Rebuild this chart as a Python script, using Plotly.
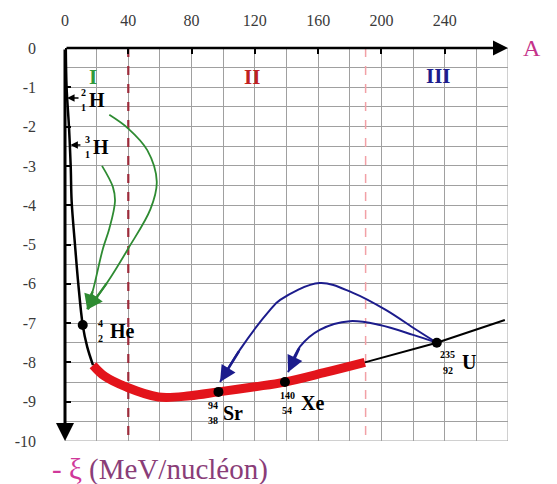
import plotly.graph_objects as go

# ---------------- data ----------------
x_ticks = [0, 40, 80, 120, 160, 200, 240]
y_ticks = [0, -1, -2, -3, -4, -5, -6, -7, -8, -9, -10]

light_A = [0.5, 1.0, 2.5, 3.6, 4.2, 6.3, 8.4, 11.2, 14.0, 17.7]
light_E = [0.0, -1.0, -2.0, -3.0, -3.9, -5.0, -6.0, -7.05, -7.6, -8.07]

stable_A = [17.7, 25, 39, 59, 79, 97, 120, 139, 165, 189.5]
stable_E = [-8.07, -8.35, -8.63, -8.88, -8.85, -8.75, -8.62, -8.5, -8.25, -8.0]

heavy_A = [189.5, 235, 278]
heavy_E = [-8.0, -7.5, -6.92]

nuclide_A = [11.2, 97, 139, 235]
nuclide_E = [-7.05, -8.75, -8.5, -7.5]

fusion1_A = [28, 40, 52, 58, 54, 40, 27, 14.5]
fusion1_E = [-1.7, -2.05, -2.6, -3.4, -4.1, -5.1, -5.95, -6.65]
fusion2_A = [23.4, 30.3, 31.6, 28, 24, 17.7, 14]
fusion2_E = [-3.0, -3.54, -3.9, -4.6, -5.1, -6.16, -6.65]

fission1_A = [235, 222, 203, 182, 161, 136, 129.5, 110.5, 98]
fission1_E = [-7.5, -7.17, -6.67, -6.23, -5.98, -6.41, -6.67, -7.68, -8.5]
fission2_A = [235, 220, 199, 180, 161, 148.5, 141]
fission2_E = [-7.5, -7.3, -7.05, -6.95, -7.17, -7.6, -8.25]

region_bounds = [40, 190]

# nuclide labels: (A of symbol, E of symbol, symbol, mass, Z, A of numbers)
labels = [
    (20.5, -1.32, "H", "2", "1", 11.6),
    (23.0, -2.52, "H", "3", "1", 14.2),
    (36.5, -7.2, "He", "4", "2", 22.5),
    (106, -9.29, "Sr", "94", "38", 93.5),
    (156.5, -9.03, "Xe", "140", "54", 140.5),
    (255.5, -8.0, "U", "235", "92", 242),
]
pointers = [((9.5, -1.27), (1.3, -1.27)), ((10.7, -2.47), (3.4, -2.47))]

romans = [("I", 18, -0.75, "#2f9a3c"), ("II", 118, -0.75, "#c0201f"), ("III", 236, -0.7, "#1c1c8c")]

SERIF = "Liberation Serif"

fig = go.Figure()

# vertical region separators
fig.add_trace(go.Scatter(x=[region_bounds[0]] * 2, y=[0, -10], mode="lines",
                         line=dict(color="#9c2a3a", width=2.2, dash="dash"), hoverinfo="skip"))
fig.add_trace(go.Scatter(x=[region_bounds[1]] * 2, y=[0, -10], mode="lines",
                         line=dict(color="#f2a0a6", width=1.5, dash="dash"), hoverinfo="skip"))

# binding energy curve
fig.add_trace(go.Scatter(x=light_A, y=light_E, mode="lines", line=dict(color="black", width=2.5, shape="spline")))
fig.add_trace(go.Scatter(x=stable_A, y=stable_E, mode="lines", line=dict(color="#e3141b", width=9, shape="spline")))
fig.add_trace(go.Scatter(x=heavy_A, y=heavy_E, mode="lines", line=dict(color="black", width=2)))

# fusion / fission paths
for xs, ys, col, w in [(fusion1_A, fusion1_E, "#2e8b32", 1.8), (fusion2_A, fusion2_E, "#2e8b32", 1.8),
                       (fission1_A, fission1_E, "#1c1c8c", 2), (fission2_A, fission2_E, "#1c1c8c", 2)]:
    fig.add_trace(go.Scatter(x=xs, y=ys, mode="lines", line=dict(color=col, width=w, shape="spline")))
    fig.add_annotation(x=xs[-1], y=ys[-1], ax=xs[-2], ay=ys[-2], axref="x", ayref="y", xref="x", yref="y",
                       text="", showarrow=True, arrowhead=2, arrowsize=1.3, arrowwidth=w + 0.5, arrowcolor=col)

fig.add_trace(go.Scatter(x=nuclide_A, y=nuclide_E, mode="markers",
                         marker=dict(color="black", size=10), hoverinfo="skip"))

# axes arrows
fig.add_annotation(x=280, y=0, ax=0, ay=0, axref="x", ayref="y", xref="x", yref="y", text="",
                   showarrow=True, arrowhead=2, arrowsize=1.2, arrowwidth=2.5, arrowcolor="black")
fig.add_annotation(x=0, y=-10, ax=0, ay=0, axref="x", ayref="y", xref="x", yref="y", text="",
                   showarrow=True, arrowhead=2, arrowsize=1.2, arrowwidth=3, arrowcolor="black")

# pointers from H labels
for (sx, sy), (tx, ty) in pointers:
    fig.add_annotation(x=tx, y=ty, ax=sx, ay=sy, axref="x", ayref="y", xref="x", yref="y", text="",
                       showarrow=True, arrowhead=2, arrowsize=1, arrowwidth=1.5, arrowcolor="black")

# nuclide labels
for sx, sy, sym, mass, z, nx in labels:
    fig.add_annotation(x=sx, y=sy, text="<b>%s</b>" % sym, showarrow=False,
                       font=dict(family=SERIF, size=20, color="black"))
    fig.add_annotation(x=nx, y=sy + 0.2, text="<b>%s</b>" % mass, showarrow=False,
                       font=dict(family=SERIF, size=10, color="black"))
    fig.add_annotation(x=nx, y=sy - 0.2, text="<b>%s</b>" % z, showarrow=False,
                       font=dict(family=SERIF, size=10, color="black"))

for txt, rx, ry, col in romans:
    fig.add_annotation(x=rx, y=ry, text="<b>%s</b>" % txt, showarrow=False,
                       font=dict(family=SERIF, size=21, color=col))

# axis titles
fig.add_annotation(xref="paper", yref="paper", x=1.054, y=1.0, xanchor="center", yanchor="middle",
                   text="A", showarrow=False, font=dict(family=SERIF, size=24, color="#c4328a"))
fig.add_annotation(xref="paper", yref="paper", x=-0.034, y=-0.026, xanchor="left", yanchor="top",
                   text="<span style='color:#d0389a'>- ξ</span> <span style='color:#8a3d78'>(MeV/nucléon)</span>",
                   showarrow=False, font=dict(family=SERIF, size=29))

# page body has an 8px default margin, so the figure is 8px smaller than the window
fig.update_layout(
    width=549, height=476,
    margin=dict(l=57, r=49, t=40, b=43, autoexpand=False),
    paper_bgcolor="white", plot_bgcolor="white",
    showlegend=False,
    xaxis=dict(range=[0, 280], side="top", tickvals=x_ticks, ticktext=[str(v) for v in x_ticks],
               automargin=False,
               showgrid=True, gridcolor="#a0a0a0", gridwidth=1,
               minor=dict(dtick=20, tick0=0, showgrid=True, gridcolor="#a0a0a0", gridwidth=1),
               ticks="inside", ticklen=6, tickwidth=2, tickcolor="black",
               showline=False, zeroline=False, ticklabelstandoff=18,
               tickfont=dict(family=SERIF, size=16, color="#3a3a3a")),
    yaxis=dict(range=[-10, 0], tickvals=y_ticks, ticktext=[str(v) for v in y_ticks],
               automargin=False,
               showgrid=True, gridcolor="#a0a0a0", gridwidth=1,
               minor=dict(dtick=0.5, tick0=0, showgrid=True, gridcolor="#a0a0a0", gridwidth=1),
               ticks="inside", ticklen=6, tickwidth=2, tickcolor="black",
               showline=False, zeroline=False, ticklabelstandoff=28,
               tickfont=dict(family=SERIF, size=16, color="#3a3a3a")),
)

# plot border on the right / bottom (grid edge)
fig.add_shape(type="rect", x0=0, x1=280, y0=-10, y1=0, xref="x", yref="y",
              line=dict(color="#a0a0a0", width=1), layer="below")

fig.write_html("out.html")
